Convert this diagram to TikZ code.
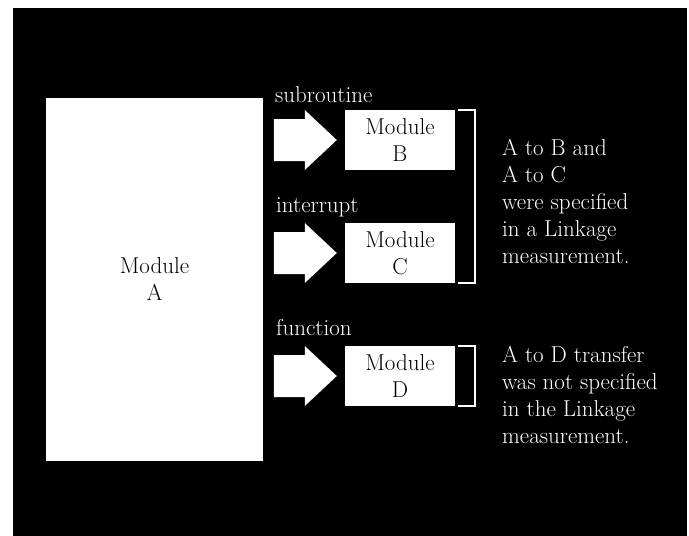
\documentclass[tikz,border=0pt]{standalone}
\usepackage{fontspec}
\usepackage{tikz}

\begin{document}
\begin{tikzpicture}[x=1pt,y=-1pt,font=\fontsize{23}{27}\selectfont]
         \useasboundingbox (0,0) rectangle (689,536);
         \fill[black] (13,8) rectangle (687,536);

         \node[fill=white,minimum width=217,minimum height=363,align=center] (A) at (154.5,279.5) {Module\\A};
         \node[fill=white,minimum width=110,minimum height=60,inner sep=0,align=center] (B) at (400,140) {Module\\B};
         \node[fill=white,minimum width=110,minimum height=60,inner sep=0,align=center] (C) at (400,253) {Module\\C};
         \node[fill=white,minimum width=110,minimum height=60,inner sep=0,align=center] (D) at (400,376) {Module\\D};

         \node[white,anchor=base west,inner sep=0] (lsub) at (275,102) {subroutine};
         \node[white,anchor=base west,inner sep=0] (lint) at (276,212) {interrupt};
         \node[white,anchor=base west,inner sep=0] (lfun) at (276,335) {function};

         \coordinate (tipB) at ([xshift=-8]B.west);
         \coordinate (tipC) at ([xshift=-8]C.west);
         \coordinate (tipD) at ([xshift=-8]D.west);
         \fill[white] (tipB) -- ++(-32,-30) -- ++(0,9) -- ++(-31,0) -- ++(0,42) -- ++(31,0) -- ++(0,9) -- cycle;
         \fill[white] (tipC) -- ++(-32,-30) -- ++(0,9) -- ++(-31,0) -- ++(0,42) -- ++(31,0) -- ++(0,9) -- cycle;
         \fill[white] (tipD) -- ++(-32,-30) -- ++(0,9) -- ++(-31,0) -- ++(0,42) -- ++(31,0) -- ++(0,9) -- cycle;

         \draw[white,line width=2] ([xshift=3]B.north east) -| ([xshift=20]C.south east) -- ([xshift=3]C.south east);
         \draw[white,line width=2] ([xshift=3]D.north east) -| ([xshift=20]D.south east) -- ([xshift=3]D.south east);

         \node[white,align=left,anchor=north west,inner sep=0] (noteBC) at (502,139) {A to B and\\A to C\\were specified\\in a Linkage\\measurement.};
         \node[white,align=left,anchor=north west,inner sep=0] (noteD) at (502,346) {A to D transfer\\was not specified\\in the Linkage\\measurement.};
      \end{tikzpicture}
\end{document}
